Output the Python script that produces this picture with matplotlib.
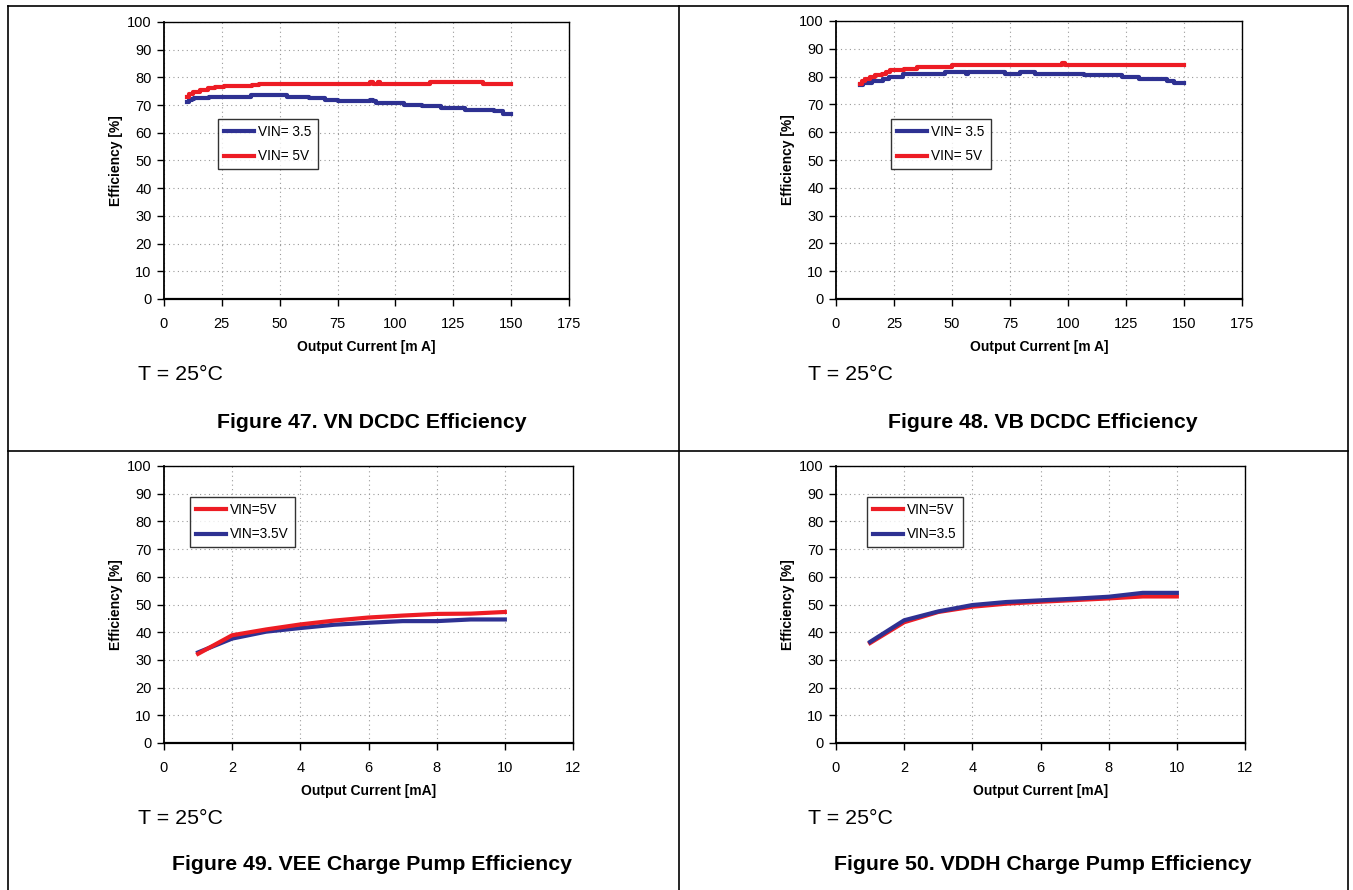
import matplotlib
matplotlib.use('Agg')
import matplotlib.pyplot as plt
from matplotlib.lines import Line2D

plt.rcParams['font.family'] = ['Liberation Sans', 'DejaVu Sans']

W, H = 1353, 890
RED = '#ED1C24'
BLUE = '#2E3192'

# Figure 47 - VN DCDC (step data, mA / %)
vn_x_5v = [10, 11, 12.5, 15.4, 19, 22, 26, 38, 41, 89, 90.5, 92.5, 93.5, 115, 138, 150]
vn_y_5v = [72.8, 74, 74.8, 75.5, 76, 76.5, 77, 77.3, 77.7, 78.2, 77.7, 78.2, 77.7, 78.3, 77.7, 77.7]
vn_x_35 = [10, 11, 12, 13, 19.5, 37.5, 53, 62.5, 69.5, 75, 89, 90.5, 91.5, 103.5, 111.5, 119.5, 130, 142.5, 146.5, 150]
vn_y_35 = [71, 71.8, 72.3, 72.5, 73.1, 73.7, 73.1, 72.5, 71.9, 71.3, 71.7, 71.3, 70.7, 70.1, 69.5, 68.9, 68.3, 67.7, 66.9, 66.9]

# Figure 48 - VB DCDC
vb_x_5v = [10.4, 11.2, 12.5, 14.7, 16.8, 19.7, 21.6, 23.3, 29.3, 34.8, 50, 97.4, 98.8, 150]
vb_y_5v = [77.3, 78.5, 79.3, 80, 80.5, 81.1, 81.7, 82.3, 82.8, 83.5, 84.1, 85, 84.1, 84.1]
vb_x_35 = [10.4, 11.8, 15.4, 20.4, 23, 29, 47, 56, 57, 73, 74, 79.4, 85.9, 106.7, 123.3, 130.5, 142.7, 145.6, 150]
vb_y_35 = [76.8, 77.8, 78.5, 79.1, 80, 80.9, 81.6, 81.0, 81.6, 81.0, 81.1, 81.6, 81.1, 80.4, 79.7, 79, 78.4, 77.8, 77.8]

# Figure 49 - VEE charge pump
cp_x = [1, 2, 3, 4, 5, 6, 7, 8, 9, 10]
vee_5v = [32.2, 38.9, 41.0, 42.8, 44.2, 45.3, 46.0, 46.6, 46.7, 47.3]
vee_35 = [32.7, 37.7, 40.2, 41.5, 42.7, 43.4, 44.0, 44.0, 44.6, 44.6]

# Figure 50 - VDDH charge pump
vddh_5v = [36.1, 43.6, 47.3, 49.2, 50.3, 51.0, 51.6, 52.2, 52.9, 52.9]
vddh_35 = [36.5, 44.3, 47.5, 49.8, 50.9, 51.5, 52.1, 52.8, 54.2, 54.2]


def rect(l, t, r, b):
    return [l / W, 1 - b / H, (r - l) / W, (b - t) / H]


def style_axes(ax, xmax, xstep, xlabel):
    ax.set_xlim(0, xmax)
    ax.set_ylim(0, 100)
    ax.set_xticks(range(0, xmax + 1, xstep))
    ax.set_yticks(range(0, 101, 10))
    ax.grid(True, color='#9a9a9a', linestyle=(0, (1, 3)), linewidth=0.8)
    ax.tick_params(direction='out', length=5, width=1, labelsize=10.5, colors='black')
    ax.tick_params(axis='x', pad=8)
    ax.tick_params(axis='y', pad=4)
    for s in ax.spines.values():
        s.set_linewidth(1.0)
        s.set_color('black')
    ax.spines['bottom'].set_linewidth(1.6)
    ax.spines['left'].set_linewidth(1.3)
    ax.set_xlabel(xlabel, fontsize=10, fontweight='bold')
    ax.set_ylabel('Efficiency [%]', fontsize=10, fontweight='bold')
    ax.xaxis.set_label_coords(0.5, -0.173)
    ax.xaxis.label.set_verticalalignment('center')
    ax.yaxis.set_label_coords(-0.118, 0.5)
    ax.yaxis.label.set_verticalalignment('center')


def add_legend(ax, handles, labels, l, t):
    leg = ax.legend(handles, labels, loc='upper left',
                    bbox_to_anchor=(l / W, 1 - t / H), bbox_transform=fig.transFigure,
                    fontsize=9.8, frameon=True, fancybox=False, handlelength=2.2,
                    handletextpad=0.3, labelspacing=0.75, borderpad=0.45,
                    borderaxespad=0)
    leg.get_frame().set_edgecolor('black')
    leg.get_frame().set_linewidth(1.0)


fig = plt.figure(figsize=(W / 100, H / 100), dpi=100)

# table frame
for x0, y0, x1, y1 in [(8, 6, 1348, 6), (8, 6, 8, 890), (1348, 6, 1348, 890),
                       (679, 6, 679, 890), (8, 451, 1348, 451)]:
    fig.add_artist(Line2D([x0 / W, x1 / W], [1 - y0 / H, 1 - y1 / H],
                          color='black', linewidth=1.2))

lw = 3.0

ax1 = fig.add_axes(rect(164, 22, 569, 299))
b1, = ax1.plot(vn_x_35, vn_y_35, color=BLUE, lw=lw, drawstyle='steps-post')
r1, = ax1.plot(vn_x_5v, vn_y_5v, color=RED, lw=lw, drawstyle='steps-post')
style_axes(ax1, 175, 25, 'Output Current [m A]')
add_legend(ax1, [b1, r1], ['VIN= 3.5', 'VIN= 5V'], 218, 119)

ax2 = fig.add_axes(rect(836, 21, 1242, 299))
b2, = ax2.plot(vb_x_35, vb_y_35, color=BLUE, lw=lw, drawstyle='steps-post')
r2, = ax2.plot(vb_x_5v, vb_y_5v, color=RED, lw=lw, drawstyle='steps-post')
style_axes(ax2, 175, 25, 'Output Current [m A]')
add_legend(ax2, [b2, r2], ['VIN= 3.5', 'VIN= 5V'], 891, 119)

ax3 = fig.add_axes(rect(164, 466, 573, 743))
b3, = ax3.plot(cp_x, vee_35, color=BLUE, lw=lw)
r3, = ax3.plot(cp_x, vee_5v, color=RED, lw=lw)
style_axes(ax3, 12, 2, 'Output Current [mA]')
add_legend(ax3, [r3, b3], ['VIN=5V', 'VIN=3.5V'], 190, 497)

ax4 = fig.add_axes(rect(836, 466, 1245, 743))
r4, = ax4.plot(cp_x, vddh_5v, color=RED, lw=lw)
b4, = ax4.plot(cp_x, vddh_35, color=BLUE, lw=lw)
style_axes(ax4, 12, 2, 'Output Current [mA]')
add_legend(ax4, [r4, b4], ['VIN=5V', 'VIN=3.5'], 867, 497)

# temperature notes and captions
for x, y in [(138, 374), (808, 374), (138, 818), (808, 818)]:
    fig.text(x / W, 1 - y / H, 'T = 25°C', fontsize=15.4, ha='left', va='center')

captions = ['Figure 47. VN DCDC Efficiency', 'Figure 48. VB DCDC Efficiency',
            'Figure 49. VEE Charge Pump Efficiency', 'Figure 50. VDDH Charge Pump Efficiency']
for txt, (x, y) in zip(captions, [(372, 422), (1043, 422), (372, 864), (1043, 864)]):
    fig.text(x / W, 1 - y / H, txt, fontsize=15.3, fontweight='bold', ha='center', va='center')

fig.savefig('out.png', dpi=100)
